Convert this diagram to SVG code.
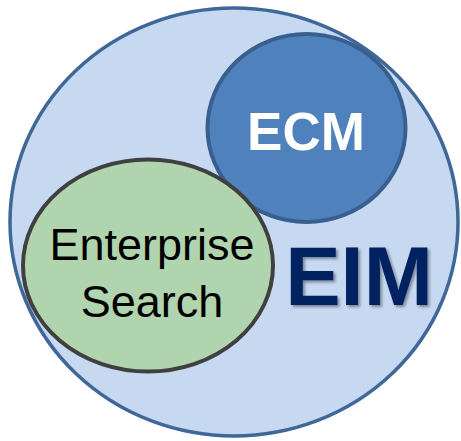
<svg xmlns="http://www.w3.org/2000/svg" width="461" height="441" viewBox="0 0 461 441">
<defs>
<style>
.outer{fill:#c6d9f1;stroke:#3f6797;stroke-width:3.5}
.ecm{fill:#4f81bd;stroke:#395f8f;stroke-width:4}
.es{fill:#b0d4ae;stroke:#404040;stroke-width:4}
.t{font-family:"Liberation Sans",Arial,sans-serif;text-anchor:middle}
</style>
<filter id="sh" x="-10%" y="-10%" width="130%" height="130%">
<feGaussianBlur in="SourceAlpha" stdDeviation="1.5"/>
<feOffset dx="2" dy="2" result="b"/>
<feComponentTransfer><feFuncA type="linear" slope="0.4"/></feComponentTransfer>
<feMerge><feMergeNode/><feMergeNode in="SourceGraphic"/></feMerge>
</filter>
</defs>
<g id="eim">
<ellipse class="outer" cx="234" cy="222" rx="224" ry="214"/>
<text class="t" x="359" y="305" font-size="83" font-weight="bold" fill="#002060" filter="url(#sh)">EIM</text>
</g>
<g id="ecm">
<ellipse class="ecm" cx="306.5" cy="128" rx="99" ry="94"/>
<text class="t" x="306" y="150" font-size="53" font-weight="bold" fill="#ffffff">ECM</text>
</g>
<g id="search">
<ellipse class="es" cx="148" cy="265.5" rx="125" ry="106"/>
<text class="t" x="152" y="260" font-size="45" fill="#000000">Enterprise</text>
<text class="t" x="152" y="317" font-size="45" fill="#000000">Search</text>
</g>
<g id="connectors"/>
</svg>
